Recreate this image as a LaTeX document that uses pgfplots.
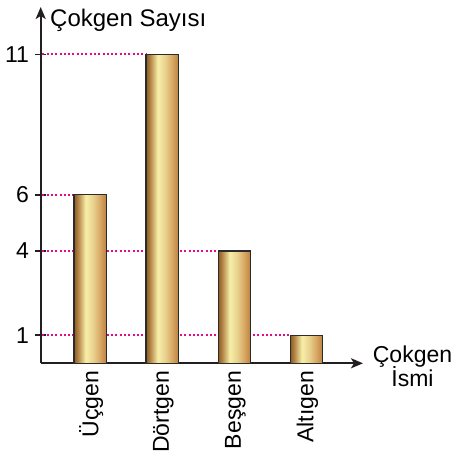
\documentclass[border=0pt]{standalone}
\usepackage{pgfplots}
\pgfplotsset{compat=1.18}
\usetikzlibrary{arrows.meta}
\usepackage{fontspec}
\setmainfont{Liberation Sans}

\definecolor{dotpink}{HTML}{E8088A}
\definecolor{edge}{HTML}{2B2B2B}
\definecolor{axisline}{HTML}{231F20}
\definecolor{g1}{HTML}{8A5A22}
\definecolor{g2}{HTML}{B98B4D}
\definecolor{g3}{HTML}{F7EFA8}
\definecolor{g4}{HTML}{E8CF8C}
\definecolor{g5}{HTML}{D6A460}
\definecolor{g6}{HTML}{B9813E}
\pgfdeclarehorizontalshading{gold}{100bp}{color(0bp)=(g1); color(25bp)=(g1);
  color(32bp)=(g2); color(43bp)=(g3); color(55bp)=(g4); color(66bp)=(g5);
  color(75bp)=(g6); color(100bp)=(g6)}

\pgfplotsset{
  guide/.style={dotpink, line width=2bp, dash pattern=on 2bp off 2.3bp},
  goldbar/.style={ybar, bar width=0.451, bar shift=0pt, draw=edge, line width=1.3bp, shading=gold},
}

\begin{document}
\fontsize{23bp}{27bp}\selectfont
\begin{tikzpicture}
\begin{axis}[
    name=ax,
    scale only axis,
    width=322.3bp, height=356.3bp,
    axis lines*=left,
    every outer x axis line/.append style={draw=axisline, line width=2bp, -{Stealth[length=12bp, width=10bp, inset=3bp]}},
    every outer y axis line/.append style={draw=axisline, line width=2bp, -{Stealth[length=12bp, width=10bp, inset=3bp]}},
    xmin=0.312, xmax=4.784,
    ymin=0, ymax=12.684,
    xtick={1,2,3,4},
    xticklabels={Üçgen, Dörtgen, Beşgen, Altıgen},
    xtick style={draw=none},
    xticklabel style={rotate=90, anchor=east, inner sep=2bp, yshift=-1bp},
    ytick={1,4,6,11},
    yticklabels={\mbox{1},\mbox{4},\mbox{6},\mbox{11}},
    ytick style={draw=axisline, line width=1.6bp},
    tick align=center,
    major tick length=11bp,
    yticklabel style={inner sep=2bp, xshift=-4bp},
    tick label style={font=\fontsize{23bp}{27bp}\selectfont},
    clip=false,
]
% dotted guide lines, drawn below the bars
\addplot[guide] coordinates {(0.335,11) (1.7745,11)};
\addplot[guide] coordinates {(0.335,6) (0.7745,6)};
\addplot[guide] coordinates {(0.335,4) (2.7745,4)};
\addplot[guide] coordinates {(0.335,1) (3.7745,1)};

\addplot[goldbar] coordinates {(1,6)};
\addplot[goldbar] coordinates {(2,11)};
\addplot[goldbar] coordinates {(3,4)};
\addplot[goldbar] coordinates {(4,1)};
\end{axis}
\node[anchor=base west, inner sep=0, font=\fontsize{24bp}{28bp}\selectfont] at ([shift={(9.3bp,-20bp)}]ax.north west) {Çokgen Sayısı};
\node[anchor=base, inner sep=0] at ([shift={(49.5bp,1.3bp)}]ax.south east) {Çokgen};
\node[anchor=base, inner sep=0] at ([shift={(49.5bp,-22.7bp)}]ax.south east) {İsmi};
\pgfresetboundingbox
\path ([shift={(-40.7bp,-92.7bp)}]ax.south west) rectangle ([shift={(415.3bp,363.3bp)}]ax.south west);
\end{tikzpicture}
\end{document}
